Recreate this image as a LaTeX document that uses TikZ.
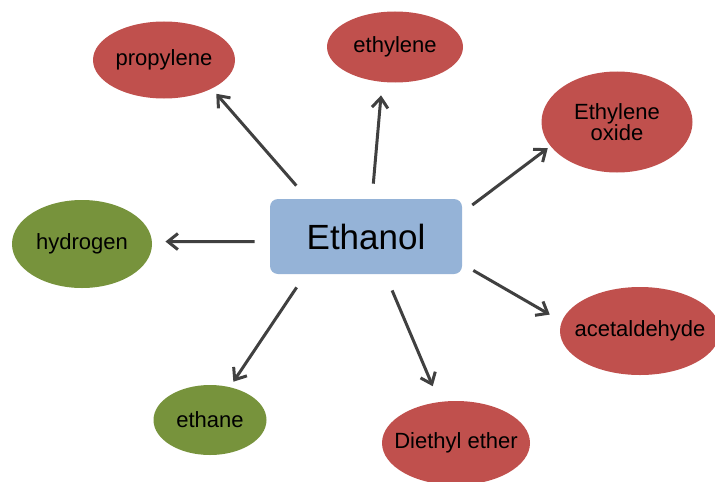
\documentclass[tikz,border=0pt]{standalone}
\usepackage{fontspec}
\setmainfont{Liberation Sans}
\usepackage{tikz}
\usetikzlibrary{arrows.meta,shapes.geometric,positioning}
\usepackage{xcolor}
\definecolor{ethblue}{RGB}{149,179,215}
\definecolor{ethred}{RGB}{192,80,77}
\definecolor{ethgreen}{RGB}{119,147,60}
\definecolor{ethgray}{RGB}{64,64,64}
\tikzstyle{arrow} = [line width=1.5pt,-{Straight Barb[length=5pt,width=8pt]},color=ethgray]
\tikzstyle{product} = [ellipse, inner sep=-20pt, draw=none, text=black, font=\fontsize{11}{10.6}\selectfont, align=center]
\tikzstyle{source} = [rectangle, rounded corners=4pt, fill=ethblue, minimum width=96pt, minimum height=37.5pt, font=\fontsize{17.5}{20}\selectfont]

\begin{document}
\begin{tikzpicture}[x=0.5pt, y=-0.5pt]
\useasboundingbox (0,0) rectangle (715,481);

% Ethanol in center
\node[source] (ethanol) at (366,236.5) {Ethanol};

% Products around ethanol
\node[product, fill=ethred, minimum width=71pt, minimum height=38.5pt] (propylene) at (164,60) {propylene};
\node[product, fill=ethred, minimum width=68pt, minimum height=35.5pt] (ethylene) at (395,47) {ethylene};
\node[product, fill=ethred, minimum width=75.5pt, minimum height=50.5pt] (oxide) at (617,122) {Ethylene\\oxide};
\node[product, fill=ethgreen, minimum width=70pt, minimum height=44pt] (hydrogen) at (82,244) {hydrogen};
\node[product, fill=ethred, minimum width=80pt, minimum height=44pt] (acetaldehyde) at (640,331) {acetaldehyde};
\node[product, fill=ethgreen, minimum width=56.5pt, minimum height=35pt] (ethane) at (210,420) {ethane};
\node[product, fill=ethred, minimum width=74pt, minimum height=42pt] (ether) at (456,443) {Diethyl ether};

% Reaction arrows
\draw[arrow, shorten <=8.6pt, shorten >=3.3pt] (ethanol.147.9) -- (propylene.-31.8);
\draw[arrow, shorten <=7.5pt, shorten >=6.6pt] (ethanol.81.4) -- (ethylene.-110.1);
\draw[arrow, shorten <=6.2pt, shorten >=1.6pt] (ethanol.14.0) -- (oxide.-160.1);
\draw[arrow, shorten <=7.5pt, shorten >=6.6pt] (ethanol.-177.3) -- (hydrogen.2.5);
\draw[arrow, shorten <=6.3pt, shorten >=6.8pt] (ethanol.-16.4) -- (acetaldehyde.173.2);
\draw[arrow, shorten <=7.8pt, shorten >=3.1pt] (ethanol.-148.6) -- (ethane.59.1);
\draw[arrow, shorten <=8.7pt, shorten >=8.4pt] (ethanol.-63.3) -- (ether.112.3);
\end{tikzpicture}
\end{document}
